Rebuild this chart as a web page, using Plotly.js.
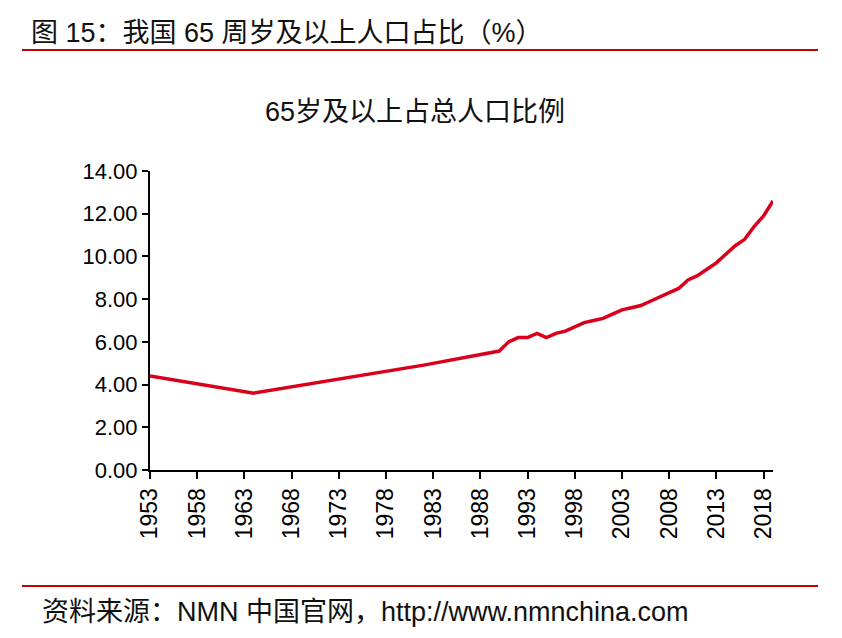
<!DOCTYPE html>
<html>
<head>
<meta charset="utf-8">
<script src="https://cdn.plot.ly/plotly-3.0.1.min.js"></script>
<style>html,body{margin:0;padding:0;background:#fff;}#chart{width:842px;height:638px;}</style>
</head>
<body>
<div id="chart"></div>
<script>
// Data
const years = [1953, 1964, 1982, 1990, 1991, 1992, 1993, 1994, 1995, 1996, 1997, 1998, 1999, 2000, 2001, 2002, 2003, 2004, 2005, 2006, 2007, 2008, 2009, 2010, 2011, 2012, 2013, 2014, 2015, 2016, 2017, 2018, 2019];
const share65 = [4.4, 3.6, 4.91, 5.57, 6.0, 6.2, 6.2, 6.4, 6.2, 6.4, 6.5, 6.7, 6.9, 7.0, 7.1, 7.3, 7.5, 7.6, 7.7, 7.9, 8.1, 8.3, 8.5, 8.9, 9.1, 9.4, 9.7, 10.1, 10.5, 10.8, 11.4, 11.9, 12.6];
const xTickYears = [1953, 1958, 1963, 1968, 1973, 1978, 1983, 1988, 1993, 1998, 2003, 2008, 2013, 2018];
const xTickLabels = ["1953", "1958", "1963", "1968", "1973", "1978", "1983", "1988", "1993", "1998", "2003", "2008", "2013", "2018"];
const yTickValues = [0, 2, 4, 6, 8, 10, 12, 14];

const headerText = "图 15：我国 65 周岁及以上人口占比（%）";
const chartTitle = "65岁及以上占总人口比例";
const sourceText = "资料来源：NMN 中国官网，http://www.nmnchina.com";

// Layout geometry (pixels)
const W = 842, H = 638;
const L = 150, R = 773, T = 171, B = 470;
const px = x => (x - L) / (R - L);
const py = y => (B - y) / (B - T);

const fontFam = '"Liberation Sans", Arial, "Noto Sans CJK SC", sans-serif';
const cjkFam = '"Liberation Sans", Arial, "Noto Sans CJK SC", sans-serif';

const trace = {
  x: years,
  y: share65,
  type: 'scatter',
  mode: 'lines',
  line: {color: 'rgb(218,0,28)', width: 3.5},
  hoverinfo: 'x+y'
};

const layout = {
  width: W, height: H,
  margin: {l: L, r: W - R, t: T, b: H - B, pad: 0},
  paper_bgcolor: '#fff',
  plot_bgcolor: '#fff',
  showlegend: false,
  xaxis: {
    range: [1953, 2019],
    tickmode: 'array',
    tickvals: xTickYears,
    ticktext: xTickLabels,
    tickangle: -90,
    ticks: 'outside',
    ticklen: 7,
    tickwidth: 2,
    tickcolor: '#000',
    showline: true,
    linecolor: '#000',
    linewidth: 2,
    showgrid: false,
    zeroline: false,
    tickfont: {family: fontFam, size: 23, color: '#000'},
    fixedrange: true
  },
  yaxis: {
    range: [0, 14],
    tickmode: 'array',
    tickvals: yTickValues,
    tickformat: '.2f',
    ticks: 'outside',
    ticklen: 6,
    tickwidth: 2,
    tickcolor: '#000',
    showline: true,
    linecolor: '#000',
    linewidth: 2,
    showgrid: false,
    zeroline: false,
    tickfont: {family: fontFam, size: 22, color: '#000'},
    fixedrange: true
  },
  shapes: [
    {type: 'line', xref: 'paper', yref: 'paper', x0: px(22), x1: px(818), y0: py(50), y1: py(50),
     line: {color: 'rgb(192,0,0)', width: 2}},
    {type: 'line', xref: 'paper', yref: 'paper', x0: px(22), x1: px(818), y0: py(586), y1: py(586),
     line: {color: 'rgb(192,0,0)', width: 2}}
  ],
  annotations: [
    {text: headerText, xref: 'paper', yref: 'paper', x: px(29), y: py(33), xanchor: 'left', yanchor: 'middle',
     showarrow: false, font: {family: cjkFam, size: 27, color: '#111'}},
    {text: chartTitle, xref: 'paper', yref: 'paper', x: px(415), y: py(112), xanchor: 'center', yanchor: 'middle',
     showarrow: false, font: {family: cjkFam, size: 27, color: '#111'}},
    {text: sourceText, xref: 'paper', yref: 'paper', x: px(40), y: py(612), xanchor: 'left', yanchor: 'middle',
     showarrow: false, font: {family: cjkFam, size: 27, color: '#111'}}
  ]
};

Plotly.newPlot('chart', [trace], layout, {displayModeBar: false, staticPlot: true});
</script>
</body>
</html>
